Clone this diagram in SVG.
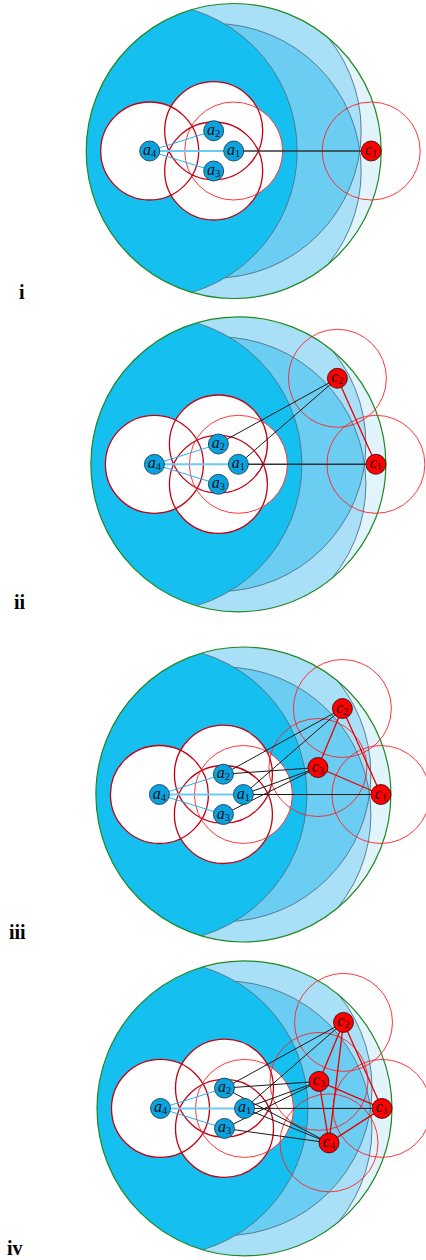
<svg xmlns="http://www.w3.org/2000/svg" xmlns:xlink="http://www.w3.org/1999/xlink" width="426" height="1260" viewBox="0 0 426 1260">
<style>
.lbl{font-family:"Liberation Serif",serif;font-weight:bold;font-size:20px;fill:#000}
.nt{font-family:"Liberation Serif",serif;font-style:italic;font-size:16px;fill:#111;text-anchor:middle}
.sub{font-style:normal;font-size:10.5px}
.an{fill:#0aa2df;stroke:#17303d;stroke-width:0.8}
.cn{fill:#ff0000;stroke:#3a0000;stroke-width:0.8}
.wd{fill:#fff;stroke:none}
.rdk{fill:none;stroke:#c40010;stroke-width:1.3}
.rl{fill:none;stroke:#ff2020;stroke-width:0.9}
.eb{stroke:#1a1a1a;stroke-width:1;fill:none}
.ek{stroke:#333;stroke-width:1.5;fill:none}
.ec{stroke:#2ab3ea;stroke-width:1;fill:none}
.ecw{stroke:#6ccbf2;stroke-width:2;fill:none}
.er{stroke:#e80000;stroke-width:1.3;fill:none}
.arc{stroke:#4c7388;stroke-width:1;stroke-opacity:0.9}
</style>
<defs>
<clipPath id="cg" clipPathUnits="userSpaceOnUse"><circle cx="0" cy="0" r="147.5"/></clipPath>
<clipPath id="c3c" clipPathUnits="userSpaceOnUse"><circle cx="-20" cy="20" r="147.5"/></clipPath>
<g id="bg">
<circle cx="0" cy="0" r="147.5" fill="#e1f3fb"/>
<g clip-path="url(#cg)">
<circle cx="-20" cy="-20.3" r="147.5" fill="#aadff8"/>
<circle cx="-20" cy="20" r="147.5" fill="#aadff8"/>
<circle cx="-20" cy="-20.3" r="147.5" fill="#6ccdf2" clip-path="url(#c3c)"/>
<circle cx="-20" cy="-20.3" r="147.5" fill="none" class="arc"/>
<circle cx="-20" cy="20" r="147.5" fill="none" class="arc"/>
<circle cx="-84" cy="0" r="147.5" fill="#15bff0" class="arc"/>
</g>
<circle cx="0" cy="0" r="147.5" fill="none" stroke="#1f8a24" stroke-width="1.2"/>
</g>
<g id="adisks">
<circle class="wd" cx="0" cy="0" r="49"/>
<circle class="wd" cx="-84" cy="0" r="49"/>
<circle class="wd" cx="-20" cy="-20.3" r="49"/>
<circle class="wd" cx="-20" cy="20" r="49"/>
<circle class="rdk" cx="-84" cy="0" r="49"/>
<circle class="rdk" cx="-20" cy="-20.3" r="49"/>
<circle class="rdk" cx="-20" cy="20" r="49"/>
<circle class="rl" cx="0" cy="0" r="49"/>
</g>
<g id="aedges">
<line class="ec" x1="-84" y1="0" x2="-20" y2="-20.3"/>
<line class="ec" x1="-84" y1="0" x2="-20" y2="20"/>
<line class="ecw" x1="-84" y1="0" x2="0" y2="0"/>
</g>
</defs>

<text class="lbl" x="19" y="299">i</text>
<text class="lbl" x="14" y="609">ii</text>
<text class="lbl" x="9" y="939">iii</text>
<text class="lbl" x="7" y="1255">iv</text>

<!-- Panel i -->
<g id="panel-i" transform="translate(233.7,151)">
<use xlink:href="#bg"/>
<use xlink:href="#adisks"/>
<circle class="rl" cx="137.5" cy="0" r="49"/>
<g id="edges-i">
<use xlink:href="#aedges"/>
<line class="ek" x1="0" y1="0" x2="137.5" y2="0"/>
</g>
<g id="i-a1"><circle class="an" cx="0" cy="0" r="10"/><text class="nt" x="0" y="4">a<tspan class="sub" dy="2">1</tspan></text></g>
<g id="i-a2"><circle class="an" cx="-20" cy="-20.3" r="10"/><text class="nt" x="-20" y="-16.3">a<tspan class="sub" dy="2">2</tspan></text></g>
<g id="i-a3"><circle class="an" cx="-20" cy="20" r="10"/><text class="nt" x="-20" y="24">a<tspan class="sub" dy="2">3</tspan></text></g>
<g id="i-a4"><circle class="an" cx="-84" cy="0" r="10"/><text class="nt" x="-84" y="4">a<tspan class="sub" dy="2">4</tspan></text></g>
<g id="i-c1"><circle class="cn" cx="137.5" cy="0" r="10"/><text class="nt" x="137.5" y="4">c<tspan class="sub" dy="2">1</tspan></text></g>
</g>

<!-- Panel ii -->
<g id="panel-ii" transform="translate(238.4,464.3)">
<use xlink:href="#bg"/>
<use xlink:href="#adisks"/>
<circle class="rl" cx="137.5" cy="0" r="49"/>
<circle class="rl" cx="99" cy="-86" r="49"/>
<g id="edges-ii">
<use xlink:href="#aedges"/>
<line class="ek" x1="0" y1="0" x2="137.5" y2="0"/>
<line class="eb" x1="-20" y1="-20.3" x2="99" y2="-86"/>
<line class="eb" x1="0" y1="0" x2="99" y2="-86"/>
<line class="er" x1="99" y1="-86" x2="137.5" y2="0"/>
</g>
<g id="ii-a1"><circle class="an" cx="0" cy="0" r="10"/><text class="nt" x="0" y="4">a<tspan class="sub" dy="2">1</tspan></text></g>
<g id="ii-a2"><circle class="an" cx="-20" cy="-20.3" r="10"/><text class="nt" x="-20" y="-16.3">a<tspan class="sub" dy="2">2</tspan></text></g>
<g id="ii-a3"><circle class="an" cx="-20" cy="20" r="10"/><text class="nt" x="-20" y="24">a<tspan class="sub" dy="2">3</tspan></text></g>
<g id="ii-a4"><circle class="an" cx="-84" cy="0" r="10"/><text class="nt" x="-84" y="4">a<tspan class="sub" dy="2">4</tspan></text></g>
<g id="ii-c1"><circle class="cn" cx="137.5" cy="0" r="10"/><text class="nt" x="137.5" y="4">c<tspan class="sub" dy="2">1</tspan></text></g>
<g id="ii-c2"><circle class="cn" cx="99" cy="-86" r="10"/><text class="nt" x="99" y="-82">c<tspan class="sub" dy="2">2</tspan></text></g>
</g>

<!-- Panel iii -->
<g id="panel-iii" transform="translate(243.4,794.5)">
<use xlink:href="#bg"/>
<use xlink:href="#adisks"/>
<circle class="rl" cx="137.5" cy="0" r="49"/>
<circle class="rl" cx="99" cy="-86" r="49"/>
<circle class="rl" cx="74.5" cy="-27" r="49"/>
<g id="edges-iii">
<use xlink:href="#aedges"/>
<line class="eb" x1="0" y1="0" x2="137.5" y2="0"/>
<line class="eb" x1="-20" y1="-20.3" x2="99" y2="-86"/>
<line class="eb" x1="0" y1="0" x2="99" y2="-86"/>
<line class="eb" x1="-20" y1="-20.3" x2="74.5" y2="-27"/>
<line class="eb" x1="0" y1="0" x2="74.5" y2="-27"/>
<line class="eb" x1="-20" y1="20" x2="74.5" y2="-27"/>
<line class="er" x1="99" y1="-86" x2="137.5" y2="0"/>
<line class="er" x1="74.5" y1="-27" x2="137.5" y2="0"/>
<line class="er" x1="99" y1="-86" x2="74.5" y2="-27"/>
</g>
<g id="iii-a1"><circle class="an" cx="0" cy="0" r="10"/><text class="nt" x="0" y="4">a<tspan class="sub" dy="2">1</tspan></text></g>
<g id="iii-a2"><circle class="an" cx="-20" cy="-20.3" r="10"/><text class="nt" x="-20" y="-16.3">a<tspan class="sub" dy="2">2</tspan></text></g>
<g id="iii-a3"><circle class="an" cx="-20" cy="20" r="10"/><text class="nt" x="-20" y="24">a<tspan class="sub" dy="2">3</tspan></text></g>
<g id="iii-a4"><circle class="an" cx="-84" cy="0" r="10"/><text class="nt" x="-84" y="4">a<tspan class="sub" dy="2">4</tspan></text></g>
<g id="iii-c1"><circle class="cn" cx="137.5" cy="0" r="10"/><text class="nt" x="137.5" y="4">c<tspan class="sub" dy="2">1</tspan></text></g>
<g id="iii-c2"><circle class="cn" cx="99" cy="-86" r="10"/><text class="nt" x="99" y="-82">c<tspan class="sub" dy="2">2</tspan></text></g>
<g id="iii-c3"><circle class="cn" cx="74.5" cy="-27" r="10"/><text class="nt" x="74.5" y="-23">c<tspan class="sub" dy="2">3</tspan></text></g>
</g>

<!-- Panel iv -->
<g id="panel-iv" transform="translate(244.5,1108.4)">
<use xlink:href="#bg"/>
<use xlink:href="#adisks"/>
<circle class="rl" cx="137.5" cy="0" r="49"/>
<circle class="rl" cx="99" cy="-86" r="49"/>
<circle class="rl" cx="74.5" cy="-27" r="49"/>
<circle class="rl" cx="84.5" cy="34.5" r="49"/>
<g id="edges-iv">
<use xlink:href="#aedges"/>
<line class="eb" x1="0" y1="0" x2="137.5" y2="0"/>
<line class="eb" x1="-20" y1="-20.3" x2="99" y2="-86"/>
<line class="eb" x1="0" y1="0" x2="99" y2="-86"/>
<line class="eb" x1="-20" y1="-20.3" x2="74.5" y2="-27"/>
<line class="eb" x1="0" y1="0" x2="74.5" y2="-27"/>
<line class="eb" x1="-20" y1="20" x2="74.5" y2="-27"/>
<line class="eb" x1="-20" y1="-20.3" x2="84.5" y2="34.5"/>
<line class="eb" x1="0" y1="0" x2="84.5" y2="34.5"/>
<line class="eb" x1="-20" y1="20" x2="84.5" y2="34.5"/>
<line class="er" x1="99" y1="-86" x2="137.5" y2="0"/>
<line class="er" x1="74.5" y1="-27" x2="137.5" y2="0"/>
<line class="er" x1="99" y1="-86" x2="74.5" y2="-27"/>
<line class="er" x1="99" y1="-86" x2="84.5" y2="34.5"/>
<line class="er" x1="74.5" y1="-27" x2="84.5" y2="34.5"/>
<line class="er" x1="84.5" y1="34.5" x2="137.5" y2="0"/>
</g>
<g id="iv-a1"><circle class="an" cx="0" cy="0" r="10"/><text class="nt" x="0" y="4">a<tspan class="sub" dy="2">1</tspan></text></g>
<g id="iv-a2"><circle class="an" cx="-20" cy="-20.3" r="10"/><text class="nt" x="-20" y="-16.3">a<tspan class="sub" dy="2">2</tspan></text></g>
<g id="iv-a3"><circle class="an" cx="-20" cy="20" r="10"/><text class="nt" x="-20" y="24">a<tspan class="sub" dy="2">3</tspan></text></g>
<g id="iv-a4"><circle class="an" cx="-84" cy="0" r="10"/><text class="nt" x="-84" y="4">a<tspan class="sub" dy="2">4</tspan></text></g>
<g id="iv-c1"><circle class="cn" cx="137.5" cy="0" r="10"/><text class="nt" x="137.5" y="4">c<tspan class="sub" dy="2">1</tspan></text></g>
<g id="iv-c2"><circle class="cn" cx="99" cy="-86" r="10"/><text class="nt" x="99" y="-82">c<tspan class="sub" dy="2">2</tspan></text></g>
<g id="iv-c3"><circle class="cn" cx="74.5" cy="-27" r="10"/><text class="nt" x="74.5" y="-23">c<tspan class="sub" dy="2">3</tspan></text></g>
<g id="iv-c4"><circle class="cn" cx="84.5" cy="34.5" r="10"/><text class="nt" x="84.5" y="38.5">c<tspan class="sub" dy="2">4</tspan></text></g>
</g>
</svg>
